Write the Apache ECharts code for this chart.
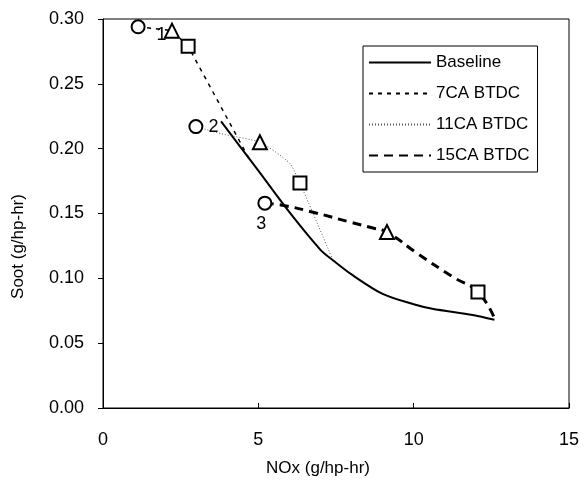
<!DOCTYPE html>
<html lang="en">
<head>
    <meta charset="UTF-8">
    <title>Soot vs NOx</title>
    <script type="text/javascript" src="https://cdn.jsdelivr.net/npm/echarts@6/dist/echarts.min.js"></script>
    <style>
        html, body { margin: 0; padding: 0; background: #fff; }
    </style>
</head>
<body>
    <div id="main" style="width:588px;height:484px;"></div>
<script type="text/javascript">
    // curves (NOx, soot)
    var baseX = [3.8, 5.0, 6.0, 7.0, 7.4, 8.0, 9.0, 10.0, 10.6, 11.9, 12.6];
    var baseY = [0.221, 0.183, 0.151, 0.122, 0.114, 0.103, 0.088, 0.080, 0.0765, 0.0717, 0.068];

    var ca7X = [1.13, 2.22, 2.74, 4.73];
    var ca7Y = [0.294, 0.291, 0.279, 0.191];

    var ca11X = [2.99, 3.9, 5.05, 6.0, 6.34, 7.37];
    var ca11Y = [0.217, 0.211, 0.205, 0.189, 0.1735, 0.1157];

    var ca15X = [5.21, 5.86, 6.76, 7.95, 8.69, 9.14, 10.1, 11.27, 12.07, 12.62];
    var ca15Y = [0.158, 0.156, 0.151, 0.1434, 0.1388, 0.1357, 0.1195, 0.101, 0.0894, 0.068];

    // markers
    var circleX = [1.13, 2.99, 5.21];
    var circleY = [0.294, 0.217, 0.158];
    var circleLabels = ['1', '2', '3'];
    var triX = [2.22, 5.05, 9.14];
    var triY = [0.291, 0.205, 0.1357];
    var sqX = [2.74, 6.34, 12.07];
    var sqY = [0.279, 0.1735, 0.0894];

    var seriesNames = ['Baseline', '7CA BTDC', '11CA BTDC', '15CA BTDC'];

    function pairs(xs, ys) {
        var out = [];
        for (var i = 0; i < xs.length; i++) out.push([xs[i], ys[i]]);
        return out;
    }

    var font = 'Liberation Sans';

    var labelOffsets = [[6, 8], [0, 0], [-21, 21]];
    var circleData = [];
    for (var i = 0; i < circleX.length; i++) {
        circleData.push({
            value: [circleX[i], circleY[i]],
            label: { formatter: circleLabels[i], offset: labelOffsets[i] }
        });
    }

    var markerStyle = { color: '#fff', borderColor: '#000', borderWidth: 2, opacity: 1 };

    var myChart = echarts.init(document.getElementById('main'));

    myChart.setOption({
        animation: false,
        color: ['#000', '#000', '#555', '#000'],
        textStyle: { fontFamily: font, color: '#000' },
        grid: {
            left: 103, right: 19, top: 19, bottom: 76,
            show: true, borderColor: '#000', borderWidth: 1
        },
        legend: {
            orient: 'vertical',
            left: 363, top: 46,
            padding: [8, 8, 8, 5],
            itemWidth: 62, itemHeight: 17, itemGap: 14,
            borderColor: '#000', borderWidth: 1,
            itemStyle: { opacity: 0 },
            data: seriesNames,
            textStyle: { fontFamily: font, fontSize: 17, color: '#000' }
        },
        xAxis: {
            type: 'value', min: 0, max: 15, interval: 5,
            name: 'NOx (g/hp-hr)', nameLocation: 'middle', nameGap: 52,
            nameTextStyle: { fontFamily: font, fontSize: 17, color: '#000', padding: [0, 36, 0, 0] },
            axisLine: { lineStyle: { color: '#000' } },
            axisTick: { inside: true, length: 5, lineStyle: { color: '#000' } },
            axisLabel: { fontFamily: font, fontSize: 18, color: '#000', margin: 23 },
            splitLine: { show: false }
        },
        yAxis: {
            type: 'value', min: 0, max: 0.3, interval: 0.05,
            name: 'Soot (g/hp-hr)', nameLocation: 'middle', nameGap: 76, nameRotate: 90,
            nameTextStyle: { fontFamily: font, fontSize: 17, color: '#000', padding: [0, 66, 0, 0] },
            axisLine: { show: true, lineStyle: { color: '#000' } },
            axisTick: { show: true, length: 5, lineStyle: { color: '#000' } },
            axisLabel: {
                fontFamily: font, fontSize: 18, color: '#000', margin: 19,
                formatter: function (v) { return v.toFixed(2); }
            },
            splitLine: { show: false }
        },
        series: [
            {
                name: seriesNames[0], type: 'line', data: pairs(baseX, baseY),
                symbol: 'none', smooth: 0.3,
                itemStyle: { color: '#000' },
                lineStyle: { color: '#000', width: 2 }
            },
            {
                name: seriesNames[1], type: 'line', data: pairs(ca7X, ca7Y),
                symbol: 'none',
                itemStyle: { color: '#000' },
                lineStyle: { color: '#000', width: 1.5, type: [4, 5] }
            },
            {
                name: seriesNames[2], type: 'line', data: pairs(ca11X, ca11Y),
                symbol: 'none', smooth: 0.2,
                itemStyle: { color: '#555' },
                lineStyle: { color: '#555', width: 1, type: [1, 2] }
            },
            {
                name: seriesNames[3], type: 'line', data: pairs(ca15X, ca15Y),
                symbol: 'none', smooth: 0.5,
                itemStyle: { color: '#000' },
                lineStyle: { color: '#000', width: 3, type: [9, 6] }
            },
            {
                name: 'circles', type: 'scatter', data: circleData,
                symbol: 'circle', symbolSize: 13, z: 5,
                itemStyle: markerStyle,
                label: {
                    show: true, position: 'right', distance: 5, opacity: 1,
                    color: '#000', fontFamily: font, fontSize: 18
                }
            },
            {
                name: 'triangles', type: 'scatter', data: pairs(triX, triY),
                symbol: 'triangle', symbolSize: 14, z: 5,
                itemStyle: markerStyle
            },
            {
                name: 'squares', type: 'scatter', data: pairs(sqX, sqY),
                symbol: 'rect', symbolSize: 13, z: 5,
                itemStyle: markerStyle
            }
        ]
    });
</script>
</body>
</html>
